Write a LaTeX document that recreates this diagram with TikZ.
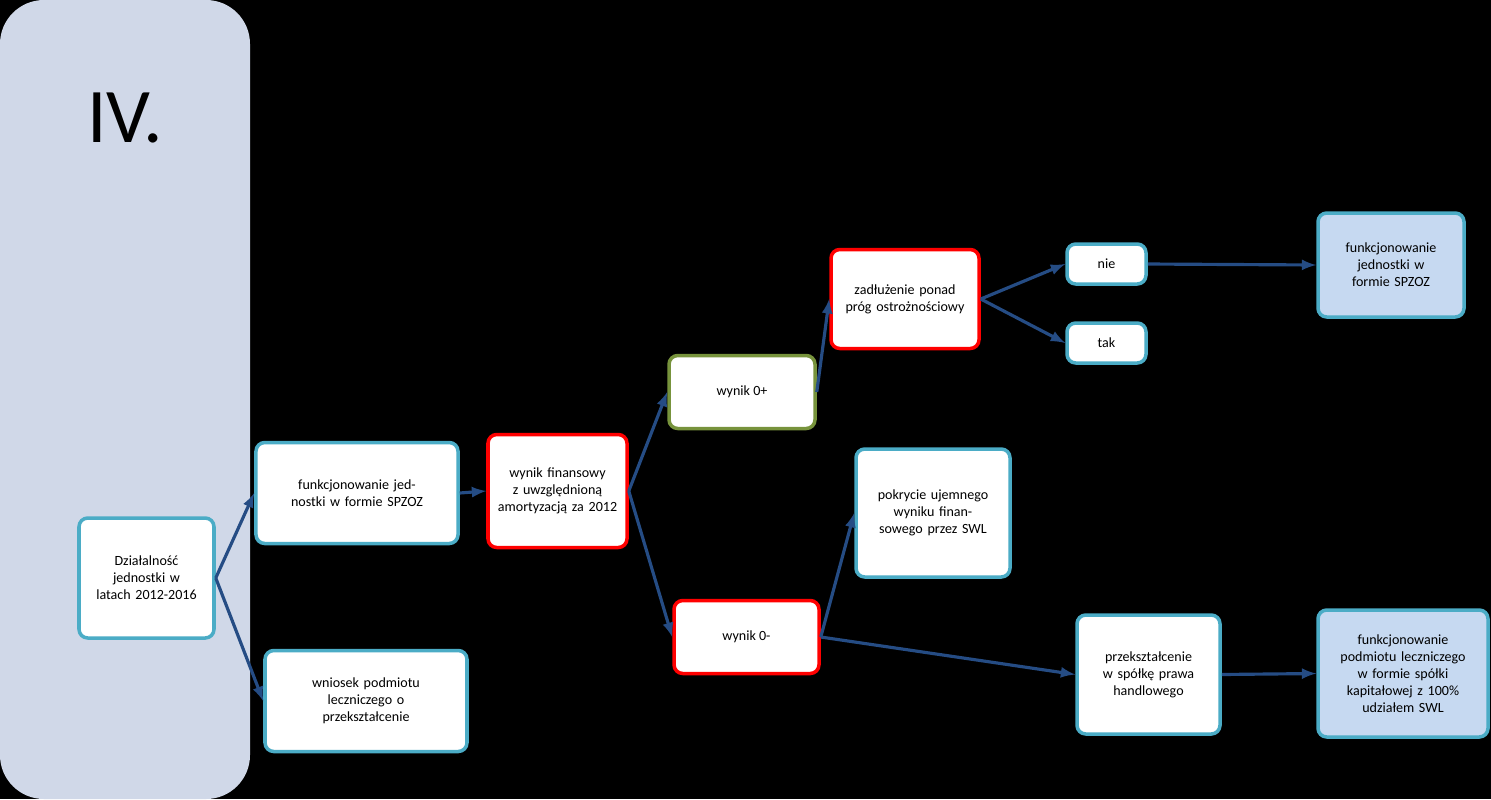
\documentclass[tikz,border=0pt]{standalone}
\usepackage{fontspec}
\setmainfont{Carlito}
\begin{document}
\begin{tikzpicture}[x=0.02cm,y=-0.02cm,
  box/.style={draw=teal0,fill=white,line width=2pt,rounded corners=5pt,align=center,font=\fontsize{8}{9.6}\selectfont,inner sep=2pt},
  red/.style={box,draw=red0},
  grn/.style={box,draw=grn0},
  blu/.style={box,fill=lb0},
  arr/.style={draw=ar0,line width=1.8pt,-latex}]
\definecolor{teal0}{HTML}{4BACC6}
\definecolor{red0}{HTML}{FF0000}
\definecolor{grn0}{HTML}{77933C}
\definecolor{lb0}{HTML}{C6D9F1}
\definecolor{ar0}{HTML}{254C84}
\definecolor{pan}{HTML}{D0D8E8}
\fill[black] (0,0) rectangle (1491,799);
\useasboundingbox (0,0) rectangle (1491,799);
\fill[pan,rounded corners=25pt] (0,0) rectangle (250,799);
\node (iv) at (125,118) {\fontsize{44}{50}\selectfont IV.};
\node[box,minimum width=135*0.02cm,minimum height=120*0.02cm,text width=115*0.02cm] (dz) at (146.5,578) {Działalność jednostki w latach 2012-2016};
\node[box,minimum width=202*0.02cm,minimum height=101*0.02cm,text width=195*0.02cm] (sp) at (357,493) {funkcjonowanie jednostki w formie SPZOZ};
\node[box,minimum width=202*0.02cm,minimum height=101*0.02cm,text width=140*0.02cm] (wn) at (366,701) {wniosek podmiotu leczniczego o przekształcenie};
\node[red,minimum width=139*0.02cm,minimum height=113*0.02cm,text width=125*0.02cm] (wf) at (557.5,491) {wynik finansowy z uwzględnioną amortyzacją za 2012};
\node[grn,minimum width=146*0.02cm,minimum height=73*0.02cm] (wp) at (742,392) {wynik 0+};
\node[red,minimum width=145*0.02cm,minimum height=73*0.02cm] (wm) at (746.5,637) {wynik 0-};
\node[red,minimum width=148*0.02cm,minimum height=99*0.02cm,text width=125*0.02cm] (zd) at (905,299) {zadłużenie ponad próg ostrożnościowy};
\node[box,minimum width=79*0.02cm,minimum height=40*0.02cm] (nie) at (1106.5,264) {nie};
\node[box,minimum width=79*0.02cm,minimum height=40*0.02cm] (tak) at (1106.5,343) {tak};
\node[blu,minimum width=146*0.02cm,minimum height=104*0.02cm,text width=130*0.02cm] (fr) at (1391,265) {funkcjonowanie jednostki w formie SPZOZ};
\node[box,minimum width=154*0.02cm,minimum height=128*0.02cm,text width=140*0.02cm] (pk) at (933,513) {pokrycie ujemnego wyniku finansowego przez SWL};
\node[box,minimum width=143*0.02cm,minimum height=119*0.02cm,text width=110*0.02cm] (pz) at (1148.5,674.5) {przekształcenie w spółkę prawa handlowego};
\node[blu,minimum width=170*0.02cm,minimum height=127*0.02cm,text width=130*0.02cm] (fs) at (1403,673.5) {funkcjonowanie podmiotu leczniczego w formie spółki kapitałowej z 100\% udziałem SWL};
\draw[arr] (dz.east) -- (sp.west);
\draw[arr] (dz.east) -- (wn.west);
\draw[arr] (sp.east) -- (wf.west);
\draw[arr] (wf.east) -- (wp.west);
\draw[arr] (wf.east) -- (wm.west);
\draw[arr] (wp.east) -- (zd.west);
\draw[arr] (zd.east) -- (nie.west);
\draw[arr] (zd.east) -- (tak.west);
\draw[arr] (nie.east) -- (fr.west);
\draw[arr] (wm.east) -- (pk.west);
\draw[arr] (wm.east) -- (pz.west);
\draw[arr] (pz.east) -- (fs.west);
\end{tikzpicture}
\end{document}
